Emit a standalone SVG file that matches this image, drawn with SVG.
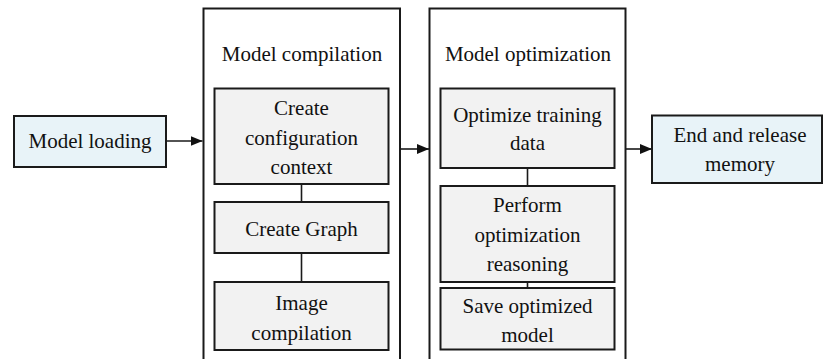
<svg xmlns="http://www.w3.org/2000/svg" width="823" height="359" viewBox="0 0 823 359">
<defs>
<style>
.t{font-family:'Liberation Serif',Tinos,'Times New Roman','DejaVu Serif',serif;font-size:21px;fill:#111;text-anchor:middle}
.blue{fill:#e8f3f8;stroke:#1a1a1a;stroke-width:2}
.gray{fill:#f2f2f2;stroke:#1a1a1a;stroke-width:2}
.cont{fill:#fff;stroke:#1a1a1a;stroke-width:2}
.ln{stroke:#1a1a1a;stroke-width:1.6;fill:none}
</style>
<marker id="ah" markerWidth="12" markerHeight="10" refX="12" refY="5" orient="auto" markerUnits="userSpaceOnUse">
<path d="M0,0 L12,5 L0,10 Z" fill="#111"/>
</marker>
</defs>
<rect width="823" height="359" fill="#fff"/>
<g id="compilation">
<rect class="cont" x="203.5" y="8.5" width="196.5" height="370"/>
<text class="t" x="302" y="61" font-family="Liberation Serif, serif">Model compilation</text>
</g>
<g id="optimization">
<rect class="cont" x="429.5" y="8.5" width="196" height="370"/>
<text class="t" x="528" y="61">Model optimization</text>
</g>
<g id="connectors">
<line class="ln" x1="166" y1="141" x2="202.5" y2="141" marker-end="url(#ah)"/>
<line class="ln" x1="400" y1="149" x2="429" y2="149" marker-end="url(#ah)"/>
<line class="ln" x1="626" y1="149" x2="652" y2="149" marker-end="url(#ah)"/>
<line class="ln" x1="301.5" y1="184" x2="301.5" y2="202"/>
<line class="ln" x1="301.5" y1="253" x2="301.5" y2="282"/>
<line class="ln" x1="527.5" y1="168" x2="527.5" y2="186"/>
<line class="ln" x1="527.5" y1="282" x2="527.5" y2="288"/>
</g>
<g id="model-loading">
<rect class="blue" x="14" y="116" width="152" height="51"/>
<text class="t" x="90" y="148">Model loading</text>
</g>
<g id="create-config">
<rect class="gray" x="214.5" y="88.5" width="174" height="95.5"/>
<text class="t" x="301.5" y="115">Create</text>
<text class="t" x="301.5" y="144.5">configuration</text>
<text class="t" x="301.5" y="174">context</text>
</g>
<g id="create-graph">
<rect class="gray" x="214.5" y="202" width="174" height="51"/>
<text class="t" x="301.5" y="235.5">Create Graph</text>
</g>
<g id="image-compilation">
<rect class="gray" x="214.5" y="282" width="174" height="68"/>
<text class="t" x="301.5" y="310">Image</text>
<text class="t" x="301.5" y="339.5">compilation</text>
</g>
<g id="optimize-training">
<rect class="gray" x="440.5" y="88.5" width="174" height="79.5"/>
<text class="t" x="527.5" y="121.5">Optimize training</text>
<text class="t" x="527.5" y="150">data</text>
</g>
<g id="perform">
<rect class="gray" x="440.5" y="186" width="174" height="96"/>
<text class="t" x="527.5" y="212">Perform</text>
<text class="t" x="527.5" y="241.5">optimization</text>
<text class="t" x="527.5" y="271">reasoning</text>
</g>
<g id="save">
<rect class="gray" x="440.5" y="288" width="174" height="61.5"/>
<text class="t" x="527.5" y="313">Save optimized</text>
<text class="t" x="527.5" y="342">model</text>
</g>
<g id="end-release">
<rect class="blue" x="652" y="115.5" width="170" height="67.5"/>
<text class="t" x="740" y="141.5">End and release</text>
<text class="t" x="740" y="171">memory</text>
</g>
</svg>
